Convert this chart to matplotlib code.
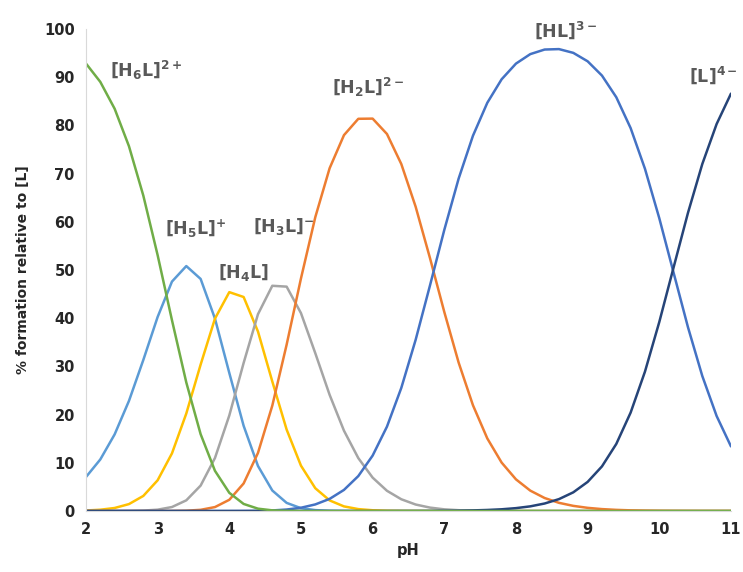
import matplotlib
matplotlib.use('Agg')
import matplotlib.pyplot as plt
import numpy as np

plt.rcParams['font.family'] = ['DejaVu Sans']
plt.rcParams['mathtext.fontset'] = 'dejavusans'

# pH grid (step 0.2) and % formation for each species
ph = np.linspace(2, 11, 46)

h6l = [92.84, 89.03, 83.46, 75.68, 65.45, 53.08, 39.59, 26.67, 15.94, 8.34,
       3.78, 1.47, 0.49, 0.14, 0.04, 0.01] + [0] * 30
h5l = [7.05, 10.70, 15.90, 22.85, 31.33, 40.26, 47.60, 50.82, 48.15, 39.92,
       28.65, 17.68, 9.35, 4.26, 1.69, 0.59, 0.19, 0.06, 0.02] + [0] * 27
h4l = [0.11, 0.27, 0.63, 1.44, 3.13, 6.38, 11.96, 20.23, 30.38, 39.92,
       45.41, 44.40, 37.24, 26.88, 16.90, 9.41, 4.73, 2.20, 0.96, 0.40,
       0.16, 0.06, 0.02, 0.01] + [0] * 22
h3l = [0, 0, 0.01, 0.03, 0.09, 0.28, 0.83, 2.22, 5.28, 11.00,
       19.82, 30.72, 40.83, 46.73, 46.55, 41.06, 32.74, 24.10, 16.67, 10.98,
       6.93, 4.20, 2.44, 1.35, 0.71, 0.35, 0.17, 0.07, 0.03, 0.01] + [0] * 16
h2l = [0, 0, 0, 0, 0, 0, 0.02, 0.07, 0.25, 0.82,
       2.33, 5.72, 12.05, 21.86, 34.51, 48.25, 60.97, 71.12, 77.98, 81.37,
       81.41, 78.22, 71.99, 63.14, 52.49, 41.29, 30.80, 21.94, 15.06, 10.05,
       6.57, 4.23, 2.70, 1.70, 1.07, 0.66, 0.40, 0.24, 0.14, 0.08,
       0.04, 0.02, 0.01, 0, 0, 0]
hl = [0] * 10 + [
      0.00, 0.01, 0.04, 0.12, 0.31, 0.68, 1.37, 2.52, 4.38, 7.25,
      11.50, 17.51, 25.54, 35.51, 46.78, 58.32, 68.96, 77.86, 84.69, 89.57,
      92.82, 94.79, 95.74, 95.83, 95.05, 93.30, 90.34, 85.84, 79.44, 71.00,
      60.74, 49.41, 38.14, 28.01, 19.71, 13.41]
l4 = [0] * 22 + [
      0.01, 0.01, 0.02, 0.04, 0.07, 0.13, 0.22, 0.36,
      0.60, 0.97, 1.56, 2.47, 3.88, 6.04, 9.26, 13.92, 20.42, 28.92,
      39.22, 50.57, 61.85, 71.99, 80.29, 86.59]

series = [h5l, h4l, h3l, h2l, hl, l4, h6l]
colors = ['#5B9BD5', '#FFC000', '#A5A5A5', '#ED7D31', '#4472C4', '#264478', '#70AD47']

labels = [r'$\mathbf{[H_6L]^{2+}}$', r'$\mathbf{[H_5L]^{+}}$', r'$\mathbf{[H_4L]}$',
          r'$\mathbf{[H_3L]^{-}}$', r'$\mathbf{[H_2L]^{2-}}$', r'$\mathbf{[HL]^{3-}}$',
          r'$\mathbf{[L]^{4-}}$']
label_x = [2.33, 3.53, 4.2, 4.76, 5.94, 8.69, 10.76]
label_y = [91.5, 58.5, 49.4, 59.1, 87.8, 99.8, 90.5]

fig = plt.figure(figsize=(7.43, 5.72), dpi=100)
ax = fig.add_axes([0.1157, 0.1066, 0.8681, 0.8427])

for ys, c in zip(series, colors):
    ax.plot(ph, ys, color=c, linewidth=1.8, solid_capstyle='round',
            solid_joinstyle='round')

for i, (tx, ty) in enumerate(zip(label_x, label_y)):
    ha = 'left' if i == 0 else 'center'
    ax.text(tx, ty, labels[i], ha=ha, va='center', fontsize=12.5, color='#595959')

ax.set_xlim(2, 11)
ax.set_ylim(0, 100)
ax.set_xticks(range(2, 12))
ax.set_yticks(range(0, 101, 10))
ax.tick_params(length=0, labelsize=10.5, pad=8)
for lab in ax.get_xticklabels() + ax.get_yticklabels():
    lab.set_fontweight('bold')
    lab.set_color('#262626')
for s in ['top', 'right']:
    ax.spines[s].set_visible(False)
ax.spines['left'].set_color('#D9D9D9')
ax.spines['bottom'].set_color('#D9D9D9')

ax.set_xlabel('pH', fontsize=10.5, fontweight='bold', color='#262626', labelpad=4)
ax.set_ylabel('% formation relative to [L]', fontsize=10, fontweight='bold',
              color='#262626', labelpad=10)

fig.savefig('out.png', dpi=100)
